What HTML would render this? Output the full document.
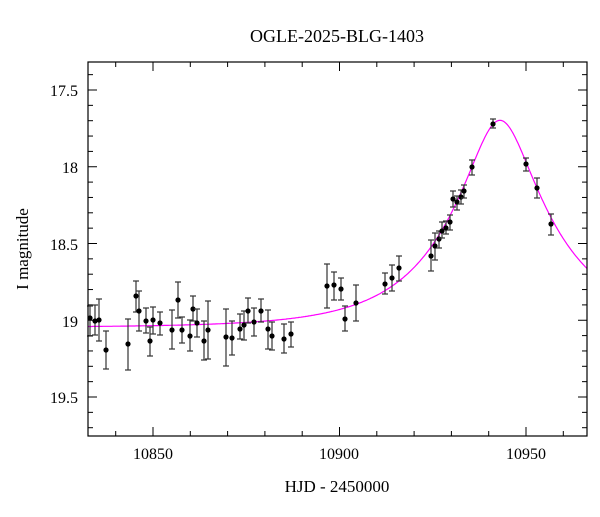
<!DOCTYPE html>
<html><head><meta charset="utf-8"><style>
body{margin:0;background:#fff}
svg text{font-family:"Liberation Serif",serif;fill:#000}
</style></head><body>
<svg id="s" width="600" height="512" xmlns="http://www.w3.org/2000/svg">
<text x="337" y="42" font-size="18" text-anchor="middle">OGLE-2025-BLG-1403</text>
<text x="337" y="492" font-size="17" text-anchor="middle">HJD - 2450000</text>
<text transform="translate(28,249) rotate(-90)" font-size="17" text-anchor="middle">I magnitude</text>
<g font-size="16" text-anchor="end">
<text x="78" y="96">17.5</text><text x="78" y="173">18</text><text x="78" y="250">18.5</text><text x="78" y="327">19</text><text x="78" y="403">19.5</text>
</g>
<g font-size="16" text-anchor="middle">
<text x="153" y="459">10850</text><text x="339" y="459">10900</text><text x="526" y="459">10950</text>
</g>
<g id="t" stroke="#000" stroke-width="1"></g>
<polyline id="c" fill="none" stroke="#f0f" stroke-width="1.2"/>
<g id="d"></g>
<rect x="88" y="62" width="499" height="374" fill="none" stroke="#000" stroke-width="1.2"/>
</svg>
<script>
var ns="http://www.w3.org/2000/svg";
function el(p,n,a){var e=document.createElementNS(ns,n);for(var k in a)e.setAttribute(k,a[k]);p.appendChild(e);return e;}
var t=document.getElementById('t');
for(var v=10840;v<=10960;v+=10){var x=153+(v-10850)*3.73;var L=(v%50==0)?9:5;
el(t,'line',{x1:x,y1:436,x2:x,y2:436-L});el(t,'line',{x1:x,y1:62,x2:x,y2:62+L});}
for(var m=17.3;m<=19.75;m+=0.1){var y=90+(m-17.5)*153.5;if(y<62||y>436)continue;var mj=Math.abs(m*2-Math.round(m*2))<0.01;var L=mj?9:5;
el(t,'line',{x1:88,y1:y,x2:88+L,y2:y});el(t,'line',{x1:587,y1:y,x2:587-L,y2:y});}
var pts="";var u0=0.298,tE=27.5;
for(var x=88;x<=587;x+=1){var dt=(x-500)/3.73/tE;var u=Math.sqrt(u0*u0+dt*dt);var A=(u*u+2)/(u*Math.sqrt(u*u+4));var y=327.5-2.5*Math.log10(A)*153.5;pts+=x+","+y.toFixed(1)+" ";}
document.getElementById('c').setAttribute('points',pts);
var D=[[90,318,306,336],[95,321,305,335],[99,320,299,341],[106,350,331,369],[128,344,319,370],[136,296,281,312],[139,311,291,331],[146,321,308,333],[150,341,327,356],[153,320,307,334],[160,323,312,335],[172,330,310,349],[178,300,282,318],[182,330,317,343],[190,336,320,351],[193,309,296,321],[197,323,309,337],[204,341,321,360],[208,330,301,359],[226,337,309,366],[232,338,321,355],[240,329,314,339],[244,325,311,340],[248,311,298,323],[254,322,308,336],[261,311,299,322],[268,329,310,349],[272,336,322,350],[284,339,324,353],[291,334,322,347],[327,286,264,308],[334,285,272,300],[341,289,278,300],[345,319,306,331],[356,303,285,321],[385,284,273,294],[392,278,265,291],[399,268,256,281],[431,256,240,271],[435,246,233,260],[439,239,231,248],[442,231,222,238],[446,228,221,234],[450,222,215,230],[453,199,191,207],[457,202,196,210],[461,197,190,204],[464,191,185,198],[472,167,160,175],[493,124,119,128],[526,164,158,171],[537,188,178,198],[551,224,214,235]];
var d=document.getElementById('d');
D.forEach(function(p){var g={stroke:'#333','stroke-width':1.2};
el(d,'line',Object.assign({x1:p[0],y1:p[2],x2:p[0],y2:p[3]},g));
el(d,'line',Object.assign({x1:p[0]-3,y1:p[2],x2:p[0]+3,y2:p[2]},g));
el(d,'line',Object.assign({x1:p[0]-3,y1:p[3],x2:p[0]+3,y2:p[3]},g));
el(d,'circle',{cx:p[0],cy:p[1],r:2.6,fill:'#000'});});
</script>
</body></html>
